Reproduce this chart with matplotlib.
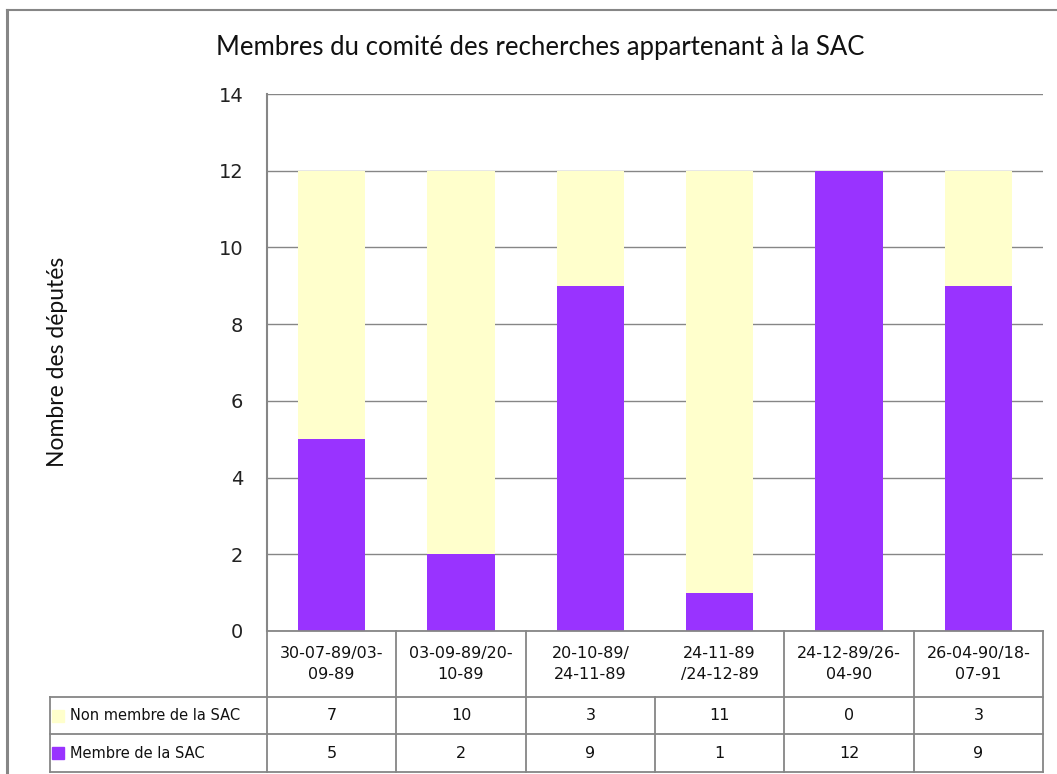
import matplotlib
matplotlib.use("Agg")
import matplotlib.pyplot as plt
from matplotlib.lines import Line2D

categories = ["30-07-89/03-\n09-89", "03-09-89/20-\n10-89", "20-10-89/\n24-11-89",
              "24-11-89\n/24-12-89", "24-12-89/26-\n04-90", "26-04-90/18-\n07-91"]
non_membre = [7, 10, 3, 11, 0, 3]
membre = [5, 2, 9, 1, 12, 9]
series_names = ["Non membre de la SAC", "Membre de la SAC"]
yticks = [0, 2, 4, 6, 8, 10, 12, 14]

purple = "#9933FF"
yellow = "#FFFFCC"
grid_c = "#868686"

W, H = 1057, 774
fig = plt.figure(figsize=(W / 100, H / 100), dpi=100)
L, R, B, T = 267, 1043, 631, 94
ax = fig.add_axes([L / W, 1 - B / H, (R - L) / W, (B - T) / H])

x = list(range(len(categories)))
ax.bar(x, membre, width=0.52, color=purple, zorder=3)
ax.bar(x, non_membre, width=0.52, bottom=membre, color=yellow, zorder=3)

ax.set_xlim(-0.5, len(categories) - 0.5)
ax.set_ylim(0, 14)
ax.set_yticks(yticks)
ax.set_yticklabels([str(v) for v in yticks], fontsize=14, color="#222222",
                   family="DejaVu Sans")
ax.tick_params(axis="y", length=0, pad=17)
ax.tick_params(axis="x", length=0, labelbottom=False)
ax.yaxis.grid(True, color=grid_c, linewidth=1, zorder=0)
for s in ["top", "right", "bottom"]:
    ax.spines[s].set_visible(False)
ax.spines["left"].set_color(grid_c)
ax.spines["left"].set_linewidth(1.5)

# table
tr = ax.get_xaxis_transform()
ph = B - T
y_head = -(697 - B) / ph
y_r1 = -(734 - B) / ph
y_r2 = -(772 - B) / ph
x_lab = -0.5 + (50 - L) / ((R - L) / len(categories))
n = len(categories)
lk = dict(color=grid_c, linewidth=1.3, transform=tr, clip_on=False, zorder=4)
ax.plot([-0.5, n - 0.5], [0, 0], **lk)
ax.plot([x_lab, n - 0.5], [y_head, y_head], **lk)
ax.plot([x_lab, n - 0.5], [y_r1, y_r1], **lk)
ax.plot([x_lab, n - 0.5], [y_r2, y_r2], **lk)
ax.plot([x_lab, x_lab], [y_head, y_r2], **lk)
for i in range(n + 1):
    xv = i - 0.5
    if i == 3:
        ax.plot([xv, xv], [y_head, y_r2], **lk)
    else:
        ax.plot([xv, xv], [0, y_r2], **lk)

for i, c in enumerate(categories):
    ax.text(i, y_head / 2, c, transform=tr, ha="center", va="center",
            fontsize=11.5, linespacing=1.45, color="#111111")
    ax.text(i, (y_head + y_r1) / 2, str(non_membre[i]), transform=tr,
            ha="center", va="center", fontsize=11.5, color="#111111")
    ax.text(i, (y_r1 + y_r2) / 2, str(membre[i]), transform=tr,
            ha="center", va="center", fontsize=11.5, color="#111111")

colw = (R - L) / n
for name, col, ya, yb in [(series_names[0], yellow, y_head, y_r1),
                          (series_names[1], purple, y_r1, y_r2)]:
    ym = (ya + yb) / 2
    ax.plot([-0.5 + (58 - L) / colw], [ym], marker="s", markersize=8,
            color=col, transform=tr, clip_on=False, zorder=5)
    ax.text(-0.5 + (70 - L) / colw, ym, name, transform=tr, ha="left",
            va="center", fontsize=10.5, color="#111111")

fig.text(540 / W, 1 - 47 / H, "Membres du comité des recherches appartenant à la SAC",
         ha="center", va="center", fontsize=18.5, family="Lato", color="#111111")
fig.text(57 / W, 1 - 362 / H, "Nombre des députés", rotation=90, ha="center",
         va="center", fontsize=16.5, family="Lato", color="#111111")

fig.add_artist(Line2D([7 / W, 1], [1 - 10 / H, 1 - 10 / H], color=grid_c,
                      linewidth=1.5, transform=fig.transFigure))
fig.add_artist(Line2D([7 / W, 7 / W], [0, 1 - 10 / H], color=grid_c,
                      linewidth=2.2, transform=fig.transFigure))

fig.savefig("out.png", dpi=100)
